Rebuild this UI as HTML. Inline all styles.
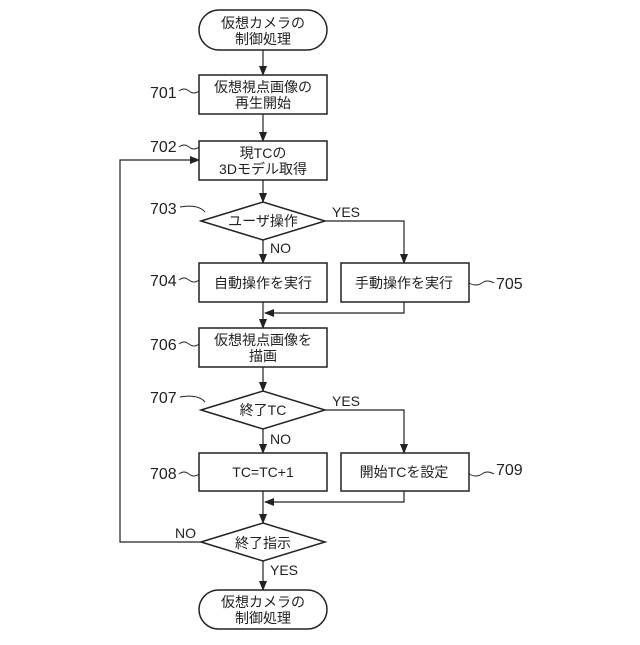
<!DOCTYPE html>
<html><head><meta charset="utf-8"><style>
html,body{margin:0;padding:0;background:#fff;}
svg text{font-family:"Liberation Sans","Noto Sans CJK JP",sans-serif;fill:#222;}
</style></head><body>
<svg width="640" height="640" viewBox="0 0 640 640" xmlns="http://www.w3.org/2000/svg">
<defs><marker id="a" markerWidth="10" markerHeight="10" refX="9" refY="5" orient="auto" markerUnits="userSpaceOnUse"><path d="M0,1 L10,5 L0,9 Z" fill="#222"/></marker></defs>
<g fill="none" stroke="#222" stroke-width="1.5">
<rect x="199" y="10" width="128" height="40" rx="20"/>
<rect x="199" y="75" width="128" height="39"/>
<rect x="199" y="141" width="128" height="39"/>
<polygon points="201,221 263,202 325,221 263,240"/>
<rect x="199" y="263" width="128" height="39"/>
<rect x="341" y="263" width="128" height="39"/>
<rect x="199" y="328" width="128" height="39"/>
<polygon points="201,410 263,391 325,410 263,429"/>
<rect x="199" y="453" width="128" height="38"/>
<rect x="341" y="453" width="128" height="38"/>
<polygon points="201,542 263,523 325,542 263,561"/>
<rect x="199" y="590" width="128" height="39" rx="19.5"/>
</g>
<g fill="none" stroke="#222" stroke-width="1.2" marker-end="url(#a)">
<line x1="263" y1="50" x2="263" y2="75"/>
<line x1="263" y1="114" x2="263" y2="141"/>
<line x1="263" y1="180" x2="263" y2="202"/>
<line x1="263" y1="240" x2="263" y2="263"/>
<polyline points="325,221 404,221 404,263"/>
<polyline points="404,302 404,313 265,313"/>
<line x1="263" y1="302" x2="263" y2="328"/>
<line x1="263" y1="367" x2="263" y2="391"/>
<line x1="263" y1="429" x2="263" y2="453"/>
<polyline points="325,410 404,410 404,453"/>
<polyline points="404,491 404,502 265,502"/>
<line x1="263" y1="491" x2="263" y2="523"/>
<line x1="263" y1="561" x2="263" y2="590"/>
<polyline points="201,542 120,542 120,160 199,160"/>
</g>
<g fill="none" stroke="#222" stroke-width="1">
<path d="M179,91 q5,-4 10,0 q5,4 10,0"/>
<path d="M179,147 q5,-4 10,0 q5,4 10,0"/>
<path d="M180,207 q18,-3 25,5"/>
<path d="M179,280 q5,-4 10,0 q5,4 10,0"/>
<path d="M469,283 q7,4 13,0 q5,-4 12,0"/>
<path d="M179,344 q5,-4 10,0 q5,4 10,0"/>
<path d="M180,397 q18,-3 25,5"/>
<path d="M179,474 q5,-4 10,0 q5,4 10,0"/>
<path d="M469,474 q7,4 13,0 q5,-4 12,0"/>
</g>
<g font-size="14" text-anchor="middle">
<text x="263" y="28">仮想カメラの</text><text x="263" y="44">制御処理</text>
<text x="263" y="92">仮想視点画像の</text><text x="263" y="108">再生開始</text>
<text x="263" y="158">現TCの</text><text x="263" y="174">3Dモデル取得</text>
<text x="263" y="226">ユーザ操作</text>
<text x="263" y="288">自動操作を実行</text>
<text x="404" y="288">手動操作を実行</text>
<text x="263" y="345">仮想視点画像を</text><text x="263" y="361">描画</text>
<text x="263" y="415">終了TC</text>
<text x="263" y="477">TC=TC+1</text>
<text x="404" y="477">開始TCを設定</text>
<text x="263" y="548">終了指示</text>
<text x="263" y="607">仮想カメラの</text><text x="263" y="623">制御処理</text>
</g>
<g font-size="14">
<text x="332" y="217">YES</text><text x="270" y="253">NO</text>
<text x="332" y="406">YES</text><text x="270" y="444">NO</text>
<text x="175" y="538">NO</text><text x="270" y="575">YES</text>
</g>
<g font-size="16">
<text x="150" y="98">701</text>
<text x="150" y="152">702</text>
<text x="150" y="214">703</text>
<text x="150" y="286">704</text>
<text x="496" y="289">705</text>
<text x="150" y="350">706</text>
<text x="150" y="403">707</text>
<text x="150" y="479">708</text>
<text x="496" y="475">709</text>
</g>
</svg>
</body></html>
